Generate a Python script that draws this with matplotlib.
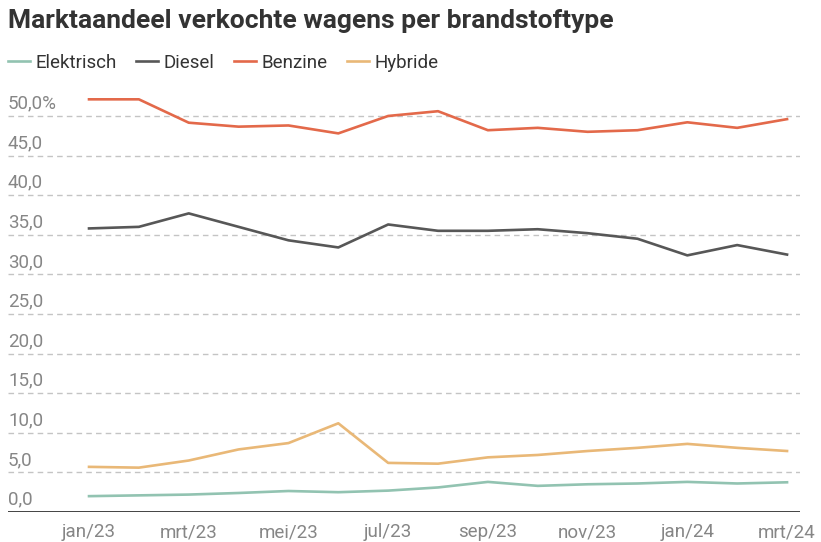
import matplotlib
matplotlib.use("Agg")
import matplotlib.pyplot as plt
import matplotlib.transforms as mtransforms

months = ["jan/23", "feb/23", "mrt/23", "apr/23", "mei/23", "jun/23", "jul/23", "aug/23",
          "sep/23", "okt/23", "nov/23", "dec/23", "jan/24", "feb/24", "mrt/24"]
elektrisch = [2.0, 2.1, 2.2, 2.4, 2.65, 2.5, 2.7, 3.1, 3.8, 3.3, 3.5, 3.6, 3.8, 3.6, 3.75]
diesel = [35.8, 36.0, 37.7, 36.0, 34.3, 33.4, 36.3, 35.5, 35.5, 35.7, 35.2, 34.5, 32.4, 33.7, 32.5]
benzine = [52.1, 52.1, 49.15, 48.65, 48.8, 47.8, 50.0, 50.6, 48.2, 48.5, 48.0, 48.2, 49.2, 48.5, 49.6]
hybride = [5.7, 5.6, 6.5, 7.9, 8.7, 11.2, 6.2, 6.1, 6.9, 7.2, 7.7, 8.1, 8.6, 8.1, 7.7]
series_names = ["Elektrisch", "Diesel", "Benzine", "Hybride"]
yticks = [0, 5, 10, 15, 20, 25, 30, 35, 40, 45, 50]
ytick_labels = ["0,0", "5,0", "10,0", "15,0", "20,0", "25,0", "30,0", "35,0", "40,0", "45,0", "50,0%"]

colors = ["#92c3b1", "#575757", "#e3694a", "#e9b877"]

plt.rcParams['font.family'] = ['Roboto', 'DejaVu Sans']

W, H = 821, 542
fig = plt.figure(figsize=(W / 100, H / 100), dpi=100)
left, right = 8 / W, 800 / W
bottom = (H - 512) / H
top = (H - 92.2) / H
ax = fig.add_axes([left, bottom, right - left, top - bottom])

x = list(range(len(months)))
lines = []
for name, vals, c in zip(series_names, [elektrisch, diesel, benzine, hybride], colors):
    ln, = ax.plot(x, vals, color=c, lw=1.9, label=name, solid_joinstyle='round')
    lines.append(ln)

ax.set_xlim(-1.625, 14.26)
ax.set_ylim(0, 53)

for v in yticks:
    if v == 0:
        ax.axhline(v, color="#222222", lw=1.2, zorder=1)
    else:
        ax.axhline(v, color="#c4c4c4", lw=1.0, ls=(0, (4, 3)), zorder=0)

trans = mtransforms.blended_transform_factory(ax.transAxes, ax.transData)
for v, lab in zip(yticks, ytick_labels):
    ax.annotate(lab, xy=(0, v), xycoords=trans, xytext=(0, 2.5), textcoords='offset points',
                ha='left', va='bottom', fontsize=13.5, color="#868686")

ax.set_yticks([])
ax.set_xticks(x[::2])
ax.set_xticklabels(months[::2], fontsize=13.5, color="#868686")
ax.tick_params(axis='x', length=0, pad=8)
for s in ax.spines.values():
    s.set_visible(False)

fig.text(8 / W, 1 - 21 / H, "Marktaandeel verkochte wagens per brandstoftype",
         fontsize=19, fontweight='bold', color="#333333", ha='left', va='center')

fig.legend(handles=lines, loc='center left', bbox_to_anchor=(8 / W, 1 - 63 / H),
           ncol=4, frameon=False, fontsize=13.5, handlelength=1.15, handletextpad=0.3,
           columnspacing=1.05, borderpad=0, borderaxespad=0, labelcolor="#333333")

fig.savefig("out.png", dpi=100)
